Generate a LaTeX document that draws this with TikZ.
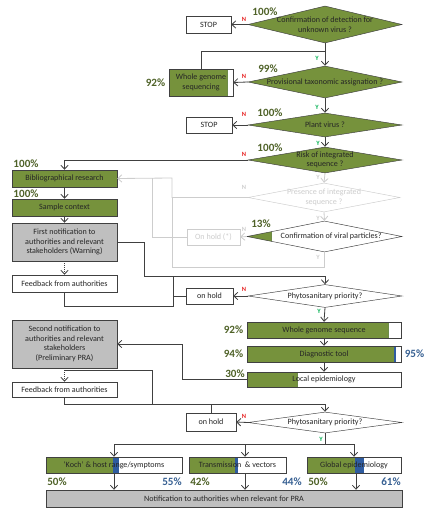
\documentclass[tikz,border=0pt]{standalone}
\usepackage{fontspec}
\setmainfont{Carlito}
\usetikzlibrary{shapes.geometric,arrows.meta,positioning,calc}
\definecolor{olivegreen}{RGB}{118,146,60}
\definecolor{darkolive}{RGB}{79,98,40}
\definecolor{steelblue}{RGB}{55,96,146}
\definecolor{barblue}{RGB}{47,92,160}
\definecolor{boxgray}{RGB}{191,191,191}
\definecolor{fadedgray}{RGB}{205,205,205}
\definecolor{linegray}{RGB}{64,64,64}
\definecolor{nored}{RGB}{230,30,30}
\definecolor{yesgreen}{RGB}{0,176,80}

\tikzset{
  box/.style={draw=linegray, fill=white, inner sep=0pt, minimum width=3.15cm, minimum height=0.51cm,
    font=\fontsize{6.9}{8.1}\selectfont, text=black!85, align=center},
  graybox/.style={box, fill=boxgray},
  ask/.style={diamond, draw=linegray, fill=white, inner sep=0pt, minimum width=4.62cm},
  asktext/.style={font=\fontsize{6.9}{8.1}\selectfont, text=black!85, align=center, inner sep=0pt},
  faded/.style={draw=fadedgray, text=fadedgray},
  bar/.style 2 args={path picture={
      \fill[olivegreen] (path picture bounding box.south west) rectangle
        ($(path picture bounding box.north west)!#1!(path picture bounding box.north east)$);
      \fill[barblue] ($(path picture bounding box.south west)!#1!(path picture bounding box.south east)$) rectangle
        ($(path picture bounding box.north west)!#2!(path picture bounding box.north east)$);}},
  pct/.style={font=\fontsize{9.5}{10}\selectfont\bfseries, text=darkolive, inner sep=0pt},
  bluepct/.style={pct, text=steelblue},
  nolab/.style={font=\fontsize{5.5}{5.5}\selectfont\bfseries, text=nored, inner sep=0pt},
  yeslab/.style={font=\fontsize{5.5}{5.5}\selectfont\bfseries, text=yesgreen, inner sep=0pt},
  link/.style={draw=linegray, line width=0.7pt},
}

\begin{document}
\begin{tikzpicture}[x=0.03cm, y=-0.03cm, >={Straight Barb[length=1.2mm,width=2.2mm]}]
    \useasboundingbox (0,0) rectangle (424,508);

    % Identification questions
    \node[ask, fill=olivegreen, minimum height=1.11cm] (q1) at (325,24.5) {};
    \node[asktext] (q1t) at (q1) {Confirmation of detection for\\unknown virus ?};
    \node[box, minimum width=1.35cm] (stop1) at (208.5,24.5) {STOP};
    \node[ask, fill=olivegreen, minimum height=0.96cm] (q2) at (325,82) {};
    \node[asktext] (q2t) at (q2) {Provisional taxonomic assignation ?};
    \node[box, bar={0.92}{0.92}, minimum width=1.92cm, minimum height=0.81cm] (wgs1) at (201,82.5) {Whole genome\\sequencing};
    \node[ask, fill=olivegreen, minimum height=0.72cm] (q3) at (325,125) {};
    \node[asktext] (q3t) at (q3) {Plant virus ?};
    \node[box, minimum width=1.38cm, minimum height=0.48cm] (stop2) at (209,125) {STOP};
    \node[ask, fill=olivegreen, minimum height=0.78cm] (q4) at (325,160) {};
    \node[asktext] (q4t) at (q4) {Risk of integrated\\sequence ?};

    % Integrated sequence branch (faded)
    \node[ask, faded, minimum width=4.56cm, minimum height=0.87cm] (q5) at (324,197.5) {};
    \node[asktext, text=fadedgray] (q5t) at (q5) {Presence of integrated\\sequence ?};
    \node[ask, bar={0.16}{0.16}, minimum width=4.65cm, minimum height=0.93cm] (q6) at (324.5,236.5) {};
    \node[asktext] (q6t) at ([xshift=0.2cm]q6) {Confirmation of viral particles?};
    \node[box, faded, minimum width=1.59cm, minimum height=0.48cm] (hold0) at (213.5,237) {On hold (*)};

    % Left column
    \node[box, bar={1}{1}] (biblio) at (64.5,178.5) {Bibliographical research};
    \node[box, bar={1}{1}] (sample) at (64.5,207.5) {Sample context};
    \node[graybox, minimum height=1.14cm] (notif1) at (64.5,242) {First notification to\\authorities and relevant\\stakeholders (Warning)};
    \node[box] (feed1) at (64.5,283.5) {Feedback from authorities};

    % First priority check
    \node[ask, minimum height=0.69cm] (q7) at (325,296) {};
    \node[asktext] (q7t) at (q7) {Phytosanitary priority?};
    \node[box, minimum width=1.41cm, minimum height=0.48cm] (hold1) at (209.5,296) {on hold};
    \node[box, bar={0.92}{0.92}, minimum width=4.62cm, minimum height=0.48cm] (wgs2) at (324,330) {Whole genome sequence};
    \node[box, bar={0.955}{0.97}, minimum width=4.62cm, minimum height=0.48cm] (diag) at (324,354) {Diagnostic tool};
    \node[box, bar={0.33}{0.33}, minimum width=4.62cm, minimum height=0.45cm] (local) at (324,379.5) {Local epidemiology};

    \node[graybox, minimum height=1.44cm] (notif2) at (64.5,344) {Second notification to\\authorities and relevant\\stakeholders\\(Preliminary PRA)};
    \node[box, minimum height=0.45cm] (feed2) at (64.5,389.5) {Feedback from authorities};

    % Second priority check
    \node[ask, minimum height=0.63cm] (q8) at (325,422.5) {};
    \node[asktext] (q8t) at (q8) {Phytosanitary priority?};
    \node[box, minimum width=1.5cm, minimum height=0.54cm] (hold2) at (211,422) {on hold};
    \node[box, bar={0.49}{0.54}, minimum width=4.08cm, minimum height=0.48cm] (koch) at (114,465) {`Koch' \& host range/symptoms};
    \node[box, bar={0.47}{0.50}, minimum width=2.91cm, minimum height=0.48cm] (trans) at (237.5,465) {Transmission\ \ \& vectors};
    \node[box, bar={0.51}{0.61}, minimum width=2.82cm, minimum height=0.48cm] (glob) at (354,465) {Global epidemiology};
    \node[graybox, minimum width=10.68cm] (final) at (224,498.5) {Notification to authorities when relevant for PRA};

    % Percentages
    \node[pct] (p1) at (265,12) {100\%};
    \node[pct] (p2) at (268,69) {99\%};
    \node[pct, left=0.1cm of wgs1] (p3) {92\%};
    \node[pct] (p4) at (270,113) {100\%};
    \node[pct] (p5) at (270,148) {100\%};
    \node[pct] (p6) at (26,164) {100\%};
    \node[pct] (p7) at (26,194) {100\%};
    \node[pct] (p8) at (261,224) {13\%};
    \node[pct, left=0.1cm of wgs2] (p9) {92\%};
    \node[pct, left=0.1cm of diag] (p10) {94\%};
    \node[bluepct, right=0.1cm of diag] (p11) {95\%};
    \node[pct] (p12) at (235,374) {30\%};
    \node[pct] (p13) at (57,482) {50\%};
    \node[bluepct] (p14) at (172,482) {55\%};
    \node[pct] (p15) at (200,482) {42\%};
    \node[bluepct] (p16) at (292,482) {44\%};
    \node[pct] (p17) at (318,482) {50\%};
    \node[bluepct] (p18) at (391,482) {61\%};

    % Junction points
    \coordinate (j1) at (325,51);
    \coordinate (c1) at (144,276);
    \coordinate (c2) at (173,306);
    \coordinate (c3) at (182,345);
    \coordinate (c4) at (152,404);
    \coordinate (c5) at (325,444);
    \coordinate (g1) at (172,178);
    \coordinate (g2) at (152,178);
    \coordinate (g3) at (172,267);
    \coordinate (t1) at (245,444);
    \coordinate (t2) at (245,473);
    \coordinate (t3) at (356,473);

    % Main chain
    \draw[link, ->] (q1.west) -- (stop1.east);
    \draw[link, ->] (q1.south) -- (q2.north);
    \draw[link] (wgs1.north) |- (j1);
    \draw[link, ->] (q2.west) -- (wgs1.east);
    \draw[link, ->] (q2.south) -- (q3.north);
    \draw[link, ->] (q3.west) -- (stop2.east);
    \draw[link, ->] (q3.south) -- (q4.north);
    \draw[link, ->] (q4.west) -| (biblio.north);
    \draw[link, ->] (biblio.south) -- (sample.north);
    \draw[link, ->] (sample.south) -- (notif1.north);
    \draw[link, ->, densely dotted] (notif1.south) -- (feed1.north);

    % Faded branch
    \draw[link, draw=fadedgray, ->] (q4.south) -- (q5.north);
    \draw[link, draw=fadedgray, ->] (q5.south) -- (q6.north);
    \draw[link, draw=fadedgray, ->] (q5.west) -| (g1) -- (biblio.east);
    \draw[link, draw=fadedgray, ->] (q6.west) -- (hold0.east);
    \draw[link, draw=fadedgray] (hold0.west) -| (g2);
    \draw[link, draw=fadedgray] (q6.south) |- (g3) -- (g3 |- q5.west);

    % To first priority check
    \draw[link, ->] (notif1.east) -| (c1) -| (q7.north);
    \draw[link] (feed1.south) |- (c2) -- (c2 |- c1);
    \draw[link] (hold1.west) -- (hold1.west -| c2);
    \draw[link, ->] (q7.west) -- (hold1.east);
    \draw[link, ->] (q7.south) -- (wgs2.north);
    \draw[link, ->] (wgs2.south) -- (diag.north);
    \draw[link, ->] (diag.south) -- (local.north);
    \draw[link, ->] (local.west) -| (notif2.east -| c3) -- (notif2.east);
    \draw[link, ->, densely dotted] (notif2.south) -- (feed2.north);

    % To second priority check
    \draw[link, ->] ([yshift=-0.06cm]notif2.south) -| (c4) -| (q8.north);
    \draw[link] (feed2.south) |- (c4);
    \draw[link] (hold2.north) -- (hold2.north |- c4);
    \draw[link, ->] (q8.west) -- (hold2.east);
    \draw[link] (q8.south) -- (c5);
    \draw[link, ->] (c5) -| (koch.north);
    \draw[link, ->] (c5) -| (glob.north);
    \draw[link, ->] (t1) -- (t1 |- trans.north);
    \draw[link, ->] (koch.south) -- (koch.south |- final.north);
    \draw[link, ->] (t2) -- (t2 |- final.north);
    \draw[link, ->] (t3) -- (t3 |- final.north);

    % Yes / No marks
    \node[nolab] (n1) at (244,19) {N};
    \node[nolab] (n2) at (244,76) {N};
    \node[nolab] (n3) at (244,114) {N};
    \node[nolab] (n4) at (244,154) {N};
    \node[nolab, text=fadedgray] (n5) at (244,187) {N};
    \node[nolab, text=fadedgray] (n6) at (244,229) {N};
    \node[nolab] (n7) at (244,289) {N};
    \node[nolab] (n8) at (244,416) {N};
    \node[yeslab] (y1) at (317,58) {Y};
    \node[yeslab] (y2) at (317,107) {Y};
    \node[yeslab] (y3) at (318,143) {Y};
    \node[yeslab, text=fadedgray] (y4) at (318,177) {Y};
    \node[yeslab, text=fadedgray] (y5) at (318,218) {Y};
    \node[yeslab, text=fadedgray] (y6) at (318,257) {Y};
    \node[yeslab] (y7) at (319,311) {Y};
    \node[yeslab] (y8) at (321,439) {Y};
\end{tikzpicture}
\end{document}
